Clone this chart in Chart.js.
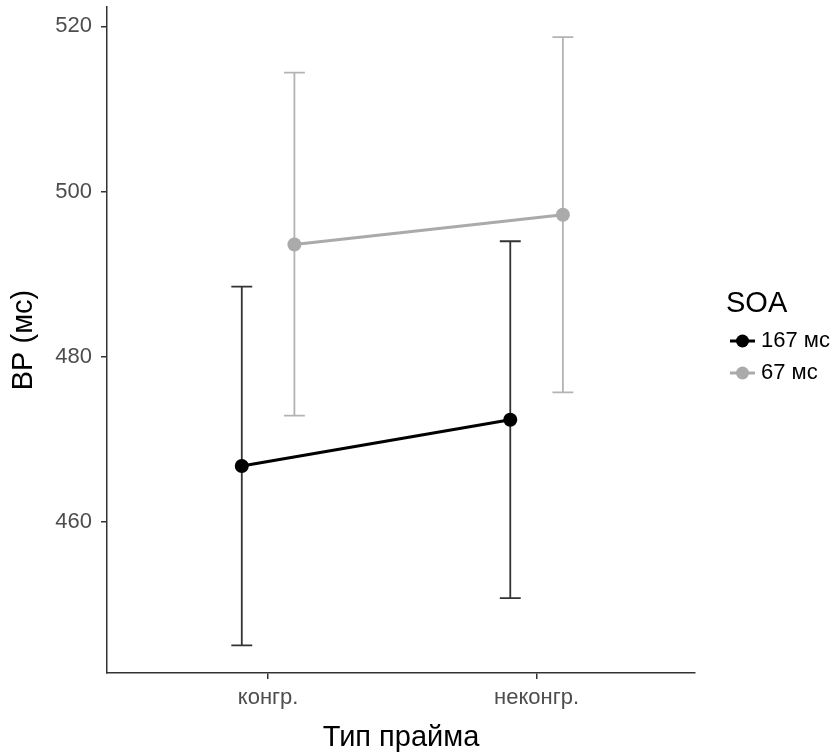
<!DOCTYPE html>
<html lang="ru">
<head>
<meta charset="UTF-8">
<title>ВР по типу прайма</title>
<script src="https://cdn.jsdelivr.net/npm/chart.js@4.4.0/dist/chart.umd.min.js"></script>
<style>
  html, body { margin: 0; padding: 0; background: #fff; }
</style>
</head>
<body>
<canvas id="myChart" width="838" height="755"></canvas>
<script>
// data
const categories = ['конгр.', 'неконгр.'];
const seriesNames = ['167 мс', '67 мс'];
const rt167 = [466.8, 472.4];
const low167 = [445.1, 450.8];
const high167 = [488.5, 494.0];
const rt67 = [493.6, 497.2];
const low67 = [472.9, 475.7];
const high67 = [514.4, 518.7];
const yTicks = [460, 480, 500, 520];

const FONT = '"Liberation Sans", Arial, sans-serif';
const dodge = 0.098;    // position dodge, in category units
const capHalf = 0.039;  // half width of error bar caps, in category units

function pts(vals, shift) {
    return vals.map((v, i) => ({ x: i + 1 + shift, y: v }));
}

const errSeries = [
    { low: low167, high: high167, shift: -dodge, color: '#333333' },
    { low: low67, high: high67, shift: dodge, color: '#b3b3b3' }
];

// draws the error bars under the points
const errorBars = {
    id: 'errorBars',
    beforeDatasetsDraw(chart) {
        const { ctx, scales: { x, y } } = chart;
        ctx.save();
        ctx.lineWidth = 1.8;
        errSeries.forEach(s => {
            ctx.strokeStyle = s.color;
            s.low.forEach((lo, i) => {
                const c = i + 1 + s.shift;
                const px = x.getPixelForValue(c);
                const l = x.getPixelForValue(c - capHalf);
                const r = x.getPixelForValue(c + capHalf);
                const yl = y.getPixelForValue(lo);
                const yh = y.getPixelForValue(s.high[i]);
                ctx.beginPath();
                ctx.moveTo(px, yl); ctx.lineTo(px, yh);
                ctx.moveTo(l, yh); ctx.lineTo(r, yh);
                ctx.moveTo(l, yl); ctx.lineTo(r, yl);
                ctx.stroke();
            });
        });
        ctx.restore();
    }
};

// ggplot-like legend on the right
const soaLegend = {
    id: 'soaLegend',
    afterDraw(chart) {
        const ctx = chart.ctx;
        ctx.save();
        ctx.textBaseline = 'middle';
        ctx.textAlign = 'left';
        ctx.fillStyle = '#000';
        ctx.font = '29px ' + FONT;
        ctx.fillText('SOA', 726, 304);
        chart.data.datasets.forEach((ds, i) => {
            const yy = 341 + i * 32;
            ctx.strokeStyle = ds.borderColor;
            ctx.lineWidth = 3;
            ctx.beginPath(); ctx.moveTo(730, yy); ctx.lineTo(755, yy); ctx.stroke();
            ctx.fillStyle = ds.backgroundColor;
            ctx.beginPath(); ctx.arc(742.5, yy, 6.5, 0, Math.PI * 2); ctx.fill();
            ctx.fillStyle = '#000';
            ctx.font = '22px ' + FONT;
            ctx.fillText(ds.label, 761, yy);
        });
        ctx.restore();
    }
};

const ctx = document.getElementById('myChart').getContext('2d');
const myChart = new Chart(ctx, {
    type: 'line',
    data: {
        datasets: [
            {
                label: seriesNames[0],
                data: pts(rt167, -dodge),
                borderColor: '#000000',
                backgroundColor: '#000000',
                borderWidth: 3,
                pointRadius: 7,
                pointHoverRadius: 7,
                pointBorderWidth: 0
            },
            {
                label: seriesNames[1],
                data: pts(rt67, dodge),
                borderColor: '#aaaaaa',
                backgroundColor: '#aaaaaa',
                borderWidth: 3,
                pointRadius: 7,
                pointHoverRadius: 7,
                pointBorderWidth: 0
            }
        ]
    },
    options: {
        responsive: false,
        animation: false,
        devicePixelRatio: 1,
        layout: { padding: { top: 5, right: 143, bottom: 0, left: 0 } },
        plugins: {
            legend: { display: false },
            tooltip: { enabled: false }
        },
        scales: {
            x: {
                type: 'linear',
                min: 0.4,
                max: 2.59,
                afterBuildTicks: s => { s.ticks = categories.map((c, i) => ({ value: i + 1 })); },
                afterFit: s => { s.height = 82; },
                ticks: {
                    callback: v => categories[v - 1],
                    color: '#4d4d4d',
                    font: { size: 22, family: FONT },
                    padding: 6,
                    maxRotation: 0,
                    autoSkip: false
                },
                grid: { drawOnChartArea: false, drawTicks: true, tickLength: 6, color: '#333333', lineWidth: 1.5 },
                border: { display: true, color: '#333333', width: 1.5 },
                title: { display: true, text: 'Тип прайма', color: '#000', font: { size: 29, family: FONT }, padding: { top: 0, bottom: 0 } }
            },
            y: {
                min: 441.75,
                max: 522.35,
                afterBuildTicks: s => { s.ticks = yTicks.map(v => ({ value: v })); },
                afterFit: s => { s.width = 107; s.paddingTop = 0; s.paddingBottom = 0; },
                ticks: {
                    color: '#4d4d4d',
                    font: { size: 22, family: FONT },
                    padding: 9
                },
                grid: { drawOnChartArea: false, drawTicks: true, tickLength: 6, color: '#333333', lineWidth: 1.5 },
                border: { display: true, color: '#333333', width: 1.5 },
                title: { display: true, text: 'ВР (мс)', color: '#000', font: { size: 29, family: FONT }, padding: { top: 7, bottom: 0 } }
            }
        }
    },
    plugins: [errorBars, soaLegend]
});
</script>
</body>
</html>
